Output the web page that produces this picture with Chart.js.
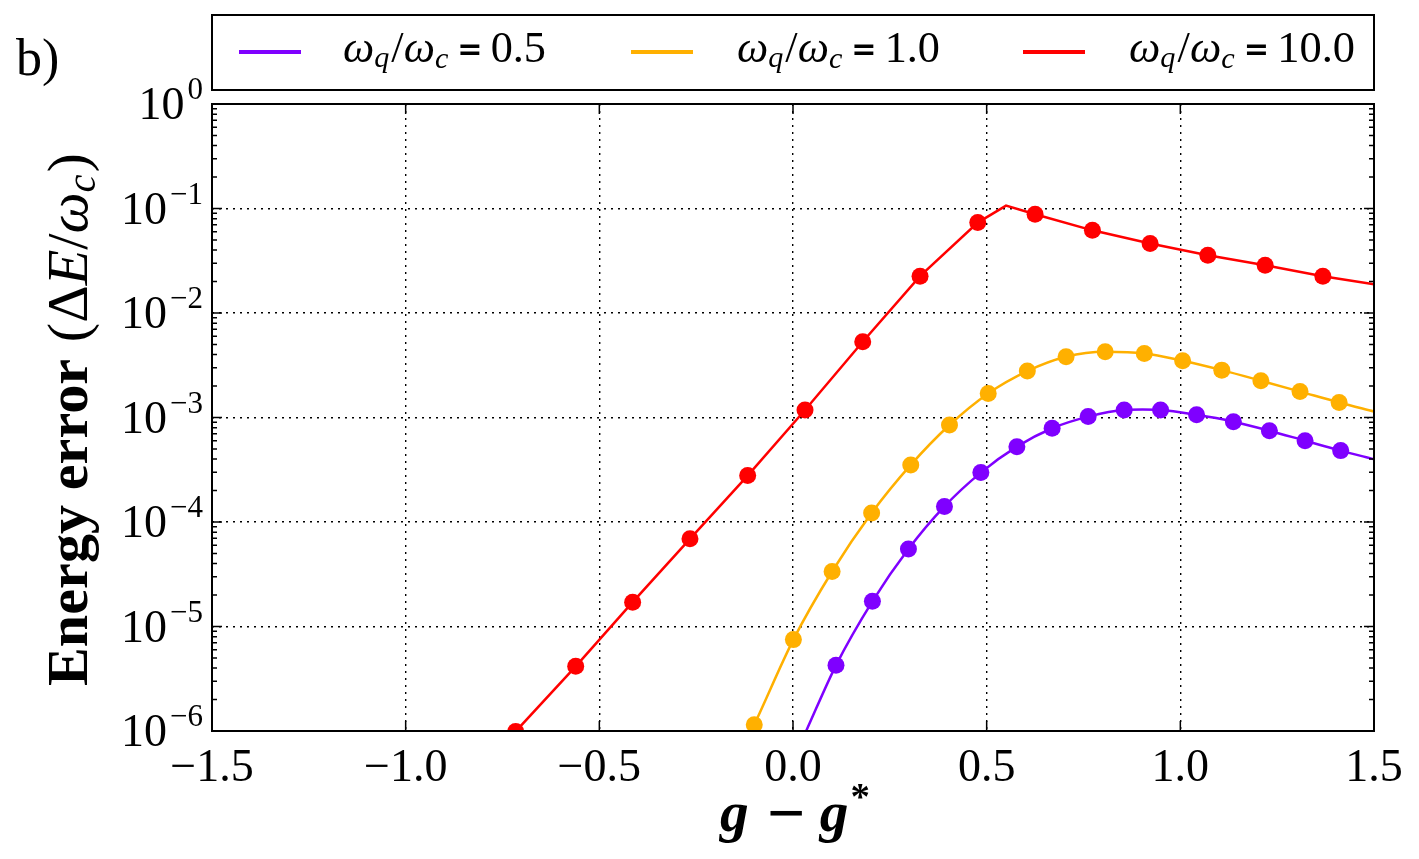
<!DOCTYPE html>
<html><head><meta charset="utf-8">
<script src="https://cdn.jsdelivr.net/npm/chart.js@4/dist/chart.umd.min.js"></script>
<style>html,body{margin:0;padding:0;background:#fff;}canvas{display:block;}</style>
</head><body>
<canvas id="c" width="1419" height="859"></canvas>
<script>
// ---------- data ----------
const xTicks = [-1.5, -1.0, -0.5, 0.0, 0.5, 1.0, 1.5];
const xTickLabels = ['\u22121.5', '\u22121.0', '\u22120.5', '0.0', '0.5', '1.0', '1.5'];
const yTicks = [1, 1e-1, 1e-2, 1e-3, 1e-4, 1e-5, 1e-6];
const yTickExponents = ['0', '\u22121', '\u22122', '\u22123', '\u22124', '\u22125', '\u22126'];
const seriesRatios = ['0.5', '1.0', '10.0'];
const seriesColors = ['#7f00ff', '#ffb000', '#ff0000'];

// markers
const purpleX = [0.111, 0.205, 0.298, 0.391, 0.485, 0.578, 0.669, 0.762, 0.855, 0.949, 1.042, 1.137, 1.230, 1.322, 1.414];
const purpleY = [4.25e-6, 1.74e-5, 5.51e-5, 1.41e-4, 2.97e-4, 5.26e-4, 7.89e-4, 1.02e-3, 1.18e-3, 1.18e-3, 1.06e-3, 9.12e-4, 7.48e-4, 6.00e-4, 4.82e-4];
const orangeX = [-0.100, 0.001, 0.101, 0.203, 0.304, 0.404, 0.504, 0.605, 0.705, 0.806, 0.907, 1.006, 1.107, 1.208, 1.309, 1.410];
const orangeY = [1.15e-6, 7.49e-6, 3.36e-5, 1.22e-4, 3.52e-4, 8.48e-4, 1.70e-3, 2.78e-3, 3.81e-3, 4.25e-3, 4.10e-3, 3.49e-3, 2.84e-3, 2.25e-3, 1.77e-3, 1.39e-3];
const redX = [-0.716, -0.561, -0.414, -0.266, -0.117, 0.031, 0.180, 0.328, 0.477, 0.625, 0.773, 0.922, 1.071, 1.219, 1.368];
const redY = [9.9e-7, 4.16e-6, 1.71e-5, 6.9e-5, 2.78e-4, 1.18e-3, 5.30e-3, 2.25e-2, 7.33e-2, 8.80e-2, 6.18e-2, 4.62e-2, 3.57e-2, 2.86e-2, 2.25e-2];

// extra points on the curves
const purpleCurveX = [0.034, 0.902, 1.5];
const purpleCurveY = [1.0e-6, 1.19e-3, 3.99e-4];
const orangeCurveX = [-0.108, 1.5];
const orangeCurveY = [1.0e-6, 1.14e-3];
const redCurveX = [0.550, 1.5];
const redCurveY = [0.1065, 1.88e-2];

// ---------- helpers ----------
const SERIF = '"Liberation Serif", "DejaVu Serif", serif';
function pts(xs, ys) { return xs.map((x, i) => ({ x: x, y: ys[i] })); }
function curve(xs, ys, ex, ey) { return pts(xs, ys).concat(pts(ex, ey)).sort((a, b) => a.x - b.x); }

const markerSets = [[purpleX, purpleY], [orangeX, orangeY], [redX, redY]];
const curveSets = [curve(purpleX, purpleY, purpleCurveX, purpleCurveY),
                   curve(orangeX, orangeY, orangeCurveX, orangeCurveY),
                   curve(redX, redY, redCurveX, redCurveY)];

const datasets = [];
markerSets.forEach((m, i) => {
  datasets.push({ data: pts(m[0], m[1]), showLine: false, pointRadius: 8.5, pointHoverRadius: 8.5,
    pointBackgroundColor: seriesColors[i], pointBorderWidth: 0, borderColor: seriesColors[i], order: 1 });
});
curveSets.forEach((c, i) => {
  datasets.push({ data: c, showLine: true, pointRadius: 0, borderWidth: 2.5, borderColor: seriesColors[i],
    tension: 0, cubicInterpolationMode: i === 2 ? 'default' : 'monotone', order: 2 });
});

function drawRuns(ctx, runs, targetWidth) {
  let total = 0;
  runs.forEach(r => { ctx.font = r.font; r.w = ctx.measureText(r.t).width + (r.gapL || 0) + (r.gapR || 0); total += r.w; });
  const s = targetWidth ? targetWidth / total : 1;
  ctx.save();
  ctx.scale(s, 1);
  let cx = 0;
  runs.forEach(r => { ctx.font = r.font; ctx.fillText(r.t, cx + (r.gapL || 0), r.dy || 0); cx += r.w; });
  ctx.restore();
}

const decor = {
  id: 'decor',
  afterDraw(chart) {
    const ctx = chart.ctx, a = chart.chartArea, xs = chart.scales.x, ys = chart.scales.y;
    ctx.save();
    ctx.fillStyle = '#000'; ctx.strokeStyle = '#000';
    // ticks
    ctx.lineWidth = 1.5;
    ctx.beginPath();
    xTicks.forEach(v => { const p = xs.getPixelForValue(v);
      ctx.moveTo(p, a.bottom); ctx.lineTo(p, a.bottom - 10);
      ctx.moveTo(p, a.top); ctx.lineTo(p, a.top + 10); });
    yTicks.forEach(v => { const p = ys.getPixelForValue(v);
      ctx.moveTo(a.left, p); ctx.lineTo(a.left + 10, p);
      ctx.moveTo(a.right, p); ctx.lineTo(a.right - 10, p); });
    for (let k = -6; k < 0; k++) for (let m = 2; m <= 9; m++) {
      const p = ys.getPixelForValue(m * Math.pow(10, k));
      ctx.moveTo(a.left, p); ctx.lineTo(a.left + 5, p);
      ctx.moveTo(a.right, p); ctx.lineTo(a.right - 5, p);
    }
    ctx.stroke();
    // frame
    ctx.lineWidth = 2;
    ctx.strokeRect(a.left, a.top, a.right - a.left, a.bottom - a.top);
    // x tick labels
    ctx.textBaseline = 'alphabetic';
    ctx.font = '46px ' + SERIF; ctx.textAlign = 'center';
    xTicks.forEach((v, i) => ctx.fillText(xTickLabels[i], xs.getPixelForValue(v), 781));
    // y tick labels
    yTicks.forEach((v, i) => {
      const p = ys.getPixelForValue(v);
      ctx.textAlign = 'right';
      ctx.font = '31px ' + SERIF;
      const ew = ctx.measureText(yTickExponents[i]).width;
      ctx.fillText(yTickExponents[i], 203, p - 5);
      ctx.font = '46px ' + SERIF;
      ctx.fillText('10', 203 - ew - 3, p + 15);
    });
    ctx.textAlign = 'left';
    // panel label
    ctx.font = '52px ' + SERIF;
    ctx.fillText('b)', 16, 75);
    // x title
    ctx.save(); ctx.translate(720, 831);
    drawRuns(ctx, [
      { t: 'g', font: 'bold italic 56px ' + SERIF },
      { t: '\u2212', font: 'bold 66px ' + SERIF, gapL: 18, gapR: 14, dy: 4 },
      { t: 'g', font: 'bold italic 56px ' + SERIF },
      { t: '*', font: 'bold 38px ' + SERIF, dy: -22, gapL: 2 }
    ], 150);
    ctx.restore();
    // y title
    ctx.save(); ctx.translate(87, 686); ctx.rotate(-Math.PI / 2);
    drawRuns(ctx, [
      { t: 'Energy error', font: 'bold 56px ' + SERIF },
      { t: '(', font: '56px ' + SERIF, gapL: 16 },
      { t: '\u0394', font: '56px ' + SERIF },
      { t: 'E', font: 'italic 56px ' + SERIF },
      { t: '/', font: '56px ' + SERIF },
      { t: '\u03c9', font: 'italic 56px ' + SERIF },
      { t: 'c', font: 'italic 39px ' + SERIF, dy: 8 },
      { t: ')', font: '56px ' + SERIF, gapL: 2 }
    ], 533);
    ctx.restore();
    // legend
    ctx.lineWidth = 2;
    ctx.strokeRect(a.left, 15, a.right - a.left, 75);
    const lineX = [239, 631, 1023], textX = [343, 737, 1129], textW = [203, 203, 226];
    seriesRatios.forEach((r, i) => {
      ctx.strokeStyle = seriesColors[i]; ctx.lineWidth = 4;
      ctx.beginPath(); ctx.moveTo(lineX[i], 52); ctx.lineTo(lineX[i] + 62, 52); ctx.stroke();
      ctx.save(); ctx.translate(textX[i], 62);
      drawRuns(ctx, [
        { t: '\u03c9', font: 'italic 44px ' + SERIF },
        { t: 'q', font: 'italic 30px ' + SERIF, dy: 5 },
        { t: '/', font: '44px ' + SERIF, gapL: 2 },
        { t: '\u03c9', font: 'italic 44px ' + SERIF },
        { t: 'c', font: 'italic 30px ' + SERIF, dy: 6 },
        { t: '=', font: 'bold 30px "DejaVu Sans"', gapL: 9, gapR: 8, dy: -3 },
        { t: r, font: '44px ' + SERIF }
      ], textW[i]);
      ctx.restore();
    });
    ctx.restore();
  }
};

new Chart(document.getElementById('c'), {
  type: 'scatter',
  data: { datasets: datasets },
  options: {
    responsive: false, animation: false, events: [],
    layout: { padding: { left: 212, top: 104, right: 45, bottom: 128 } },
    plugins: { legend: { display: false }, tooltip: { enabled: false } },
    scales: {
      x: { type: 'linear', min: -1.5, max: 1.5,
        afterBuildTicks: s => { s.ticks = xTicks.map(v => ({ value: v })); },
        ticks: { display: false },
        grid: { color: '#000', lineWidth: 1.4, drawTicks: false, tickLength: 0 },
        border: { display: false, dash: [2, 5] } },
      y: { type: 'logarithmic', min: 1e-6, max: 1,
        afterBuildTicks: s => { s.ticks = yTicks.map(v => ({ value: v, major: true })); },
        ticks: { display: false },
        grid: { color: '#000', lineWidth: 1.4, drawTicks: false, tickLength: 0 },
        border: { display: false, dash: [2, 5] } }
    }
  },
  plugins: [decor]
});
</script>
</body></html>
